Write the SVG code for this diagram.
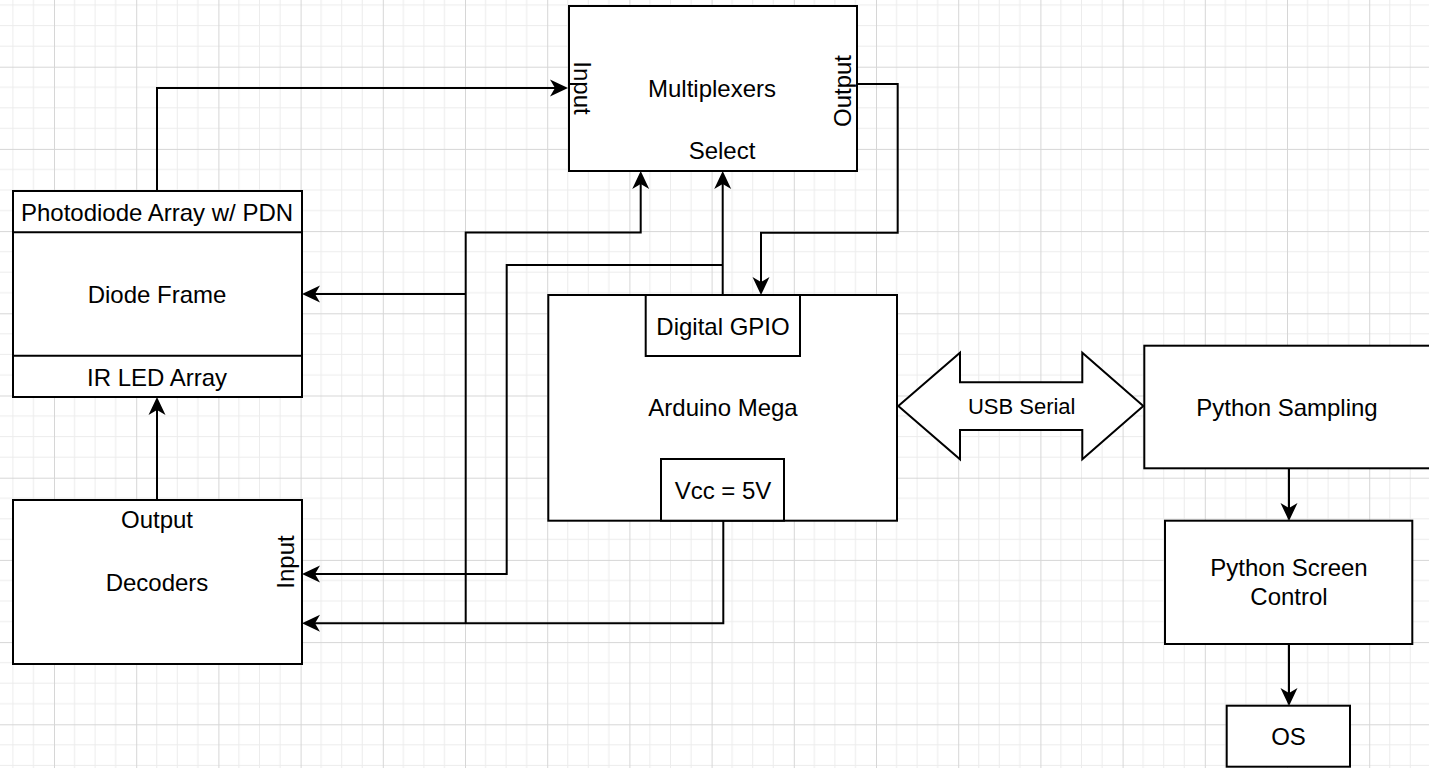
<svg xmlns="http://www.w3.org/2000/svg" width="1429" height="768" viewBox="0 0 1429 768">
<defs>
<pattern id="grid" patternUnits="userSpaceOnUse" x="54" y="66.7" width="82.2" height="82.2">
<path d="M20.55,0 V82.2 M41.1,0 V82.2 M61.65,0 V82.2 M0,20.55 H82.2 M0,41.1 H82.2 M0,61.65 H82.2" stroke="#ececec" stroke-width="1" fill="none"/>
<path d="M0.5,0 V82.2 M0,0.5 H82.2" stroke="#d6d6d6" stroke-width="1" fill="none"/>
</pattern>
<marker id="arr" markerUnits="userSpaceOnUse" viewBox="-19 -10 20 20" markerWidth="20" markerHeight="20" refX="-13" refY="0" orient="auto">
<path d="M0,0 L-18,-8.5 L-13,0 L-18,8.5 Z" fill="#000"/>
</marker>
</defs>
<style>
.box{fill:#fff;stroke:#000;stroke-width:2}
.ln{fill:none;stroke:#000;stroke-width:2}
.t{font-family:"Liberation Sans",Arial,Helvetica,sans-serif;font-size:24px;fill:#000;text-anchor:middle}
.s{font-size:22px}
</style>
<rect width="1429" height="768" fill="#fff"/>
<rect width="1429" height="768" fill="url(#grid)"/>

<g id="connectors">
<path class="ln" d="M157,191 V88 H555" marker-end="url(#arr)"/>
<path class="ln" d="M857,84 H897.7 V232.7 H761 V282" marker-end="url(#arr)"/>
<path class="ln" d="M465.7,623.3 V232.5 H640.7 V184" marker-end="url(#arr)"/>
<path class="ln" d="M465.7,294 H315" marker-end="url(#arr)"/>
<path class="ln" d="M722.7,295 V184" marker-end="url(#arr)"/>
<path class="ln" d="M722.7,265 H506.7 V574 H315" marker-end="url(#arr)"/>
<path class="ln" d="M723.3,520.7 V623.3 H315" marker-end="url(#arr)"/>
<path class="ln" d="M157,500 V410" marker-end="url(#arr)"/>
<path class="ln" d="M1289,468 V508" marker-end="url(#arr)"/>
<path class="ln" d="M1289,644 V693" marker-end="url(#arr)"/>
</g>

<g id="multiplexers">
<rect class="box" x="569" y="6" width="288" height="165"/>
<text class="t" x="712" y="96.5">Multiplexers</text>
<text class="t" transform="translate(582,88) rotate(90)" y="8.5">Input</text>
<text class="t" transform="translate(842,91) rotate(-90)" y="8.5">Output</text>
<text class="t" x="722" y="158.5">Select</text>
</g>

<g id="diode-frame">
<rect class="box" x="13" y="191" width="289" height="206"/>
<line class="ln" x1="13" y1="232.3" x2="302" y2="232.3"/>
<line class="ln" x1="13" y1="355.7" x2="302" y2="355.7"/>
<text class="t" x="157" y="220.5">Photodiode Array w/ PDN</text>
<text class="t" x="157" y="302.5">Diode Frame</text>
<text class="t" x="157" y="385.5">IR LED Array</text>
</g>

<g id="decoders">
<rect class="box" x="13" y="500" width="289" height="164"/>
<text class="t" x="157" y="527.5">Output</text>
<text class="t" x="157" y="590.5">Decoders</text>
<text class="t" transform="translate(285,562) rotate(-90)" y="8.5">Input</text>
</g>

<g id="arduino">
<rect class="box" x="548.3" y="295" width="348.7" height="225.7"/>
<rect class="box" x="645.7" y="295" width="154.3" height="61"/>
<rect class="box" x="661" y="459" width="123" height="61.7"/>
<text class="t" x="723" y="334.5">Digital GPIO</text>
<text class="t" x="723" y="415.5">Arduino Mega</text>
<text class="t" x="723" y="498.5">Vcc = 5V</text>
</g>

<g id="usb-serial">
<polygon class="box" points="898.3,406 960,352.7 960,382.3 1082.3,382.3 1082.3,352.7 1143.3,406 1082.3,459.3 1082.3,430 960,430 960,459.3"/>
<text class="t s" x="1021.7" y="413.7">USB Serial</text>
</g>

<g id="python-sampling">
<rect class="box" x="1144.3" y="345.7" width="290" height="122.6"/>
<text class="t" x="1287" y="415.5">Python Sampling</text>
</g>

<g id="python-screen-control">
<rect class="box" x="1165" y="520.7" width="247.3" height="123.3"/>
<text class="t" x="1289" y="575.8">Python Screen</text>
<text class="t" x="1289" y="605.2">Control</text>
</g>

<g id="os">
<rect class="box" x="1226.7" y="705.7" width="123.3" height="61"/>
<text class="t" x="1288.5" y="744.5">OS</text>
</g>
</svg>
